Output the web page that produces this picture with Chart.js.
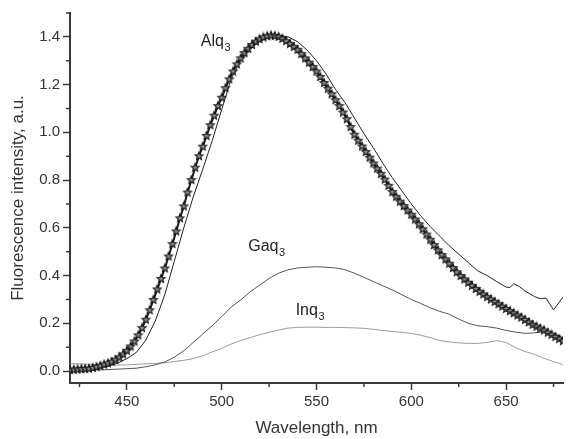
<!DOCTYPE html>
<html>
<head>
<meta charset="utf-8">
<script src="https://cdn.jsdelivr.net/npm/chart.js@4.4.1/dist/chart.umd.min.js"></script>
<style>
  html, body { margin: 0; padding: 0; background: #fff; }
</style>
</head>
<body>
<canvas id="chart" width="569" height="439"></canvas>
<script>
// wavelength grid of the starred Alq3 trace (nm)
const starNm = [
  420,422,424,426,428,430,432,434,436,438,
  440,442,444,446,448,450,452,454,456,458,
  460,462,464,466,468,470,472,474,476,478,
  480,482,484,486,488,490,492,494,496,498,
  500,502,504,506,508,510,512,514,516,518,
  520,522,524,526,528,530,532,534,536,538,
  540,542,544,546,548,550,552,554,556,558,
  560,562,564,566,568,570,572,574,576,578,
  580,582,584,586,588,590,592,594,596,598,
  600,602,604,606,608,610,612,614,616,618,
  620,622,624,626,628,630,632,634,636,638,
  640,642,644,646,648,650,652,654,656,658,
  660,662,664,666,668,670,672,674,676,678,
  680
];
const alqStar = [
  0.005,0.006,0.007,0.008,0.009,0.010,0.013,0.017,0.022,0.027,
  0.032,0.039,0.047,0.057,0.070,0.085,0.103,0.124,0.150,0.180,
  0.215,0.255,0.298,0.342,0.386,0.430,0.480,0.532,0.585,0.640,
  0.690,0.748,0.800,0.852,0.900,0.940,0.985,1.030,1.070,1.110,
  1.145,1.185,1.222,1.255,1.285,1.310,1.332,1.350,1.366,1.380,
  1.390,1.398,1.403,1.406,1.404,1.400,1.392,1.382,1.370,1.358,
  1.346,1.328,1.310,1.292,1.274,1.255,1.232,1.207,1.183,1.160,
  1.135,1.110,1.083,1.055,1.022,0.990,0.965,0.941,0.918,0.894,
  0.870,0.848,0.826,0.802,0.776,0.750,0.730,0.710,0.691,0.673,
  0.655,0.635,0.615,0.594,0.572,0.550,0.528,0.506,0.486,0.468,
  0.450,0.432,0.414,0.398,0.384,0.370,0.357,0.344,0.332,0.321,
  0.310,0.300,0.290,0.280,0.270,0.260,0.251,0.242,0.233,0.224,
  0.214,0.204,0.194,0.186,0.178,0.170,0.161,0.152,0.143,0.134,
  0.125
];

// thin Alq3 trace
const alqThinNm = [
  420,425,430,435,440,445,450,455,460,465,470,475,480,485,490,495,
  500,505,510,515,520,525,530,535,540,545,550,555,560,565,570,575,
  580,585,590,595,600,605,610,615,620,625,630,635,640,645,650,652,
  654,657,660,665,668,671,675,680
];
const alqThin = [
  0.005,0.006,0.008,0.012,0.020,0.033,0.052,0.078,0.130,0.210,0.320,0.460,0.600,0.730,0.845,0.965,
  1.095,1.225,1.300,1.350,1.380,1.400,1.405,1.400,1.380,1.345,1.300,1.245,1.180,1.125,1.060,0.995,
  0.935,0.870,0.810,0.755,0.700,0.650,0.605,0.565,0.525,0.490,0.455,0.420,0.400,0.375,0.352,0.350,
  0.366,0.354,0.335,0.312,0.303,0.306,0.256,0.310
];

// Gaq3 and Inq3 traces share a 5 nm grid
const lineNm = [
  420,425,430,435,440,445,450,455,460,465,470,475,480,485,490,495,
  500,505,510,515,520,525,530,535,540,545,550,555,560,565,570,575,
  580,585,590,595,600,605,610,615,620,625,630,635,640,645,650,655,
  660,665,670,675,680
];
const gaq = [
  0.002,0.003,0.004,0.005,0.006,0.008,0.010,0.012,0.018,0.026,0.038,0.058,0.085,0.120,0.155,0.190,
  0.228,0.268,0.298,0.332,0.360,0.388,0.410,0.424,0.432,0.435,0.437,0.435,0.432,0.425,0.410,0.393,
  0.375,0.357,0.340,0.320,0.300,0.283,0.265,0.250,0.238,0.218,0.200,0.190,0.186,0.180,0.170,0.163,
  0.158,0.160,0.165,0.158,0.140
];
const inq = [
  0.032,0.030,0.028,0.027,0.026,0.025,0.026,0.028,0.030,0.032,0.035,0.040,0.045,0.052,0.064,0.080,
  0.095,0.113,0.128,0.140,0.152,0.162,0.172,0.180,0.183,0.184,0.184,0.183,0.183,0.182,0.181,0.179,
  0.175,0.170,0.166,0.162,0.158,0.150,0.140,0.128,0.122,0.118,0.116,0.116,0.120,0.127,0.120,0.098,
  0.082,0.070,0.053,0.040,0.027
];

const xMajor = [450, 500, 550, 600, 650];
const xMinor = [425, 475, 525, 575, 625, 675];
const yMajor = [0.0, 0.2, 0.4, 0.6, 0.8, 1.0, 1.2, 1.4];
const yMinor = [0.1, 0.3, 0.5, 0.7, 0.9, 1.1, 1.3, 1.5];

const curveLabels = ['Alq', 'Gaq', 'Inq'];
const labelNm = [489, 514, 539];
const labelVal = [1.36, 0.505, 0.235];

const axisColor = '#3a3a3a';
const fontFamily = '"Liberation Sans", Arial, Helvetica, sans-serif';

function pts(xs, ys) {
  return xs.map((x, i) => ({ x, y: ys[i] }));
}

// open five-point star used as marker
function makeStar(r) {
  const size = Math.ceil(r * 2 + 3);
  const c = document.createElement('canvas');
  c.width = size; c.height = size;
  const g = c.getContext('2d');
  g.translate(size / 2, size / 2);
  g.beginPath();
  for (let i = 0; i < 10; i++) {
    const rad = i % 2 === 0 ? r : r * 0.45;
    const a = -Math.PI / 2 + i * Math.PI / 5;
    if (i === 0) g.moveTo(rad * Math.cos(a), rad * Math.sin(a));
    else g.lineTo(rad * Math.cos(a), rad * Math.sin(a));
  }
  g.closePath();
  g.fillStyle = '#8a8a8a';
  g.fill();
  g.strokeStyle = '#111';
  g.lineWidth = 1.1;
  g.stroke();
  return c;
}

const extras = {
  id: 'extras',
  afterDraw(chart) {
    const ctx = chart.ctx;
    const xs = chart.scales.x, ys = chart.scales.y;
    const area = chart.chartArea;
    ctx.save();
    ctx.strokeStyle = axisColor;
    ctx.lineWidth = 1.5;
    ctx.beginPath();
    xMinor.forEach(v => {
      const px = xs.getPixelForValue(v);
      ctx.moveTo(px, area.bottom);
      ctx.lineTo(px, area.bottom + 4);
    });
    yMinor.forEach(v => {
      const py = ys.getPixelForValue(v);
      ctx.moveTo(area.left, py);
      ctx.lineTo(area.left - 4, py);
    });
    ctx.stroke();

    ctx.fillStyle = '#222';
    ctx.textBaseline = 'alphabetic';
    curveLabels.forEach((name, i) => {
      const px = xs.getPixelForValue(labelNm[i]);
      const py = ys.getPixelForValue(labelVal[i]);
      ctx.font = '16px ' + fontFamily;
      ctx.fillText(name, px, py);
      const w = ctx.measureText(name).width;
      ctx.font = '11px ' + fontFamily;
      ctx.fillText('3', px + w + 0.5, py + 5);
    });
    ctx.restore();
  }
};

new Chart(document.getElementById('chart'), {
  type: 'line',
  data: {
    datasets: [
      {
        label: 'Alq3 (stars)',
        data: pts(starNm, alqStar),
        borderColor: '#1a1a1a',
        borderWidth: 2,
        pointStyle: makeStar(4.2),
        pointRadius: 4,
        tension: 0,
        order: 0
      },
      {
        label: 'Alq3',
        data: pts(alqThinNm, alqThin),
        borderColor: '#222',
        borderWidth: 1,
        pointRadius: 0,
        tension: 0,
        order: 1
      },
      {
        label: 'Gaq3',
        data: pts(lineNm, gaq),
        borderColor: '#555',
        borderWidth: 1,
        pointRadius: 0,
        tension: 0,
        order: 2
      },
      {
        label: 'Inq3',
        data: pts(lineNm, inq),
        borderColor: '#9a9a9a',
        borderWidth: 1,
        pointRadius: 0,
        tension: 0,
        order: 3
      }
    ]
  },
  options: {
    responsive: false,
    animation: false,
    layout: { padding: { top: 13, right: 0, left: 0, bottom: 0 } },
    plugins: { legend: { display: false }, tooltip: { enabled: false } },
    scales: {
      x: {
        type: 'linear',
        min: 420,
        max: 680,
        afterBuildTicks: s => { s.ticks = xMajor.map(v => ({ value: v })); },
        afterFit: s => { s.height = 56; },
        border: { display: true, color: axisColor, width: 2 },
        grid: { drawOnChartArea: false, drawTicks: true, tickLength: 7, tickWidth: 1.5, tickColor: axisColor },
        ticks: { color: '#333', padding: 3, font: { size: 15, family: fontFamily }, maxRotation: 0 },
        title: { display: true, text: 'Wavelength, nm', color: '#333', font: { size: 17, family: fontFamily }, padding: { top: 0, bottom: 0 } }
      },
      y: {
        type: 'linear',
        min: -0.05,
        max: 1.5,
        afterBuildTicks: s => { s.ticks = yMajor.map(v => ({ value: v })); },
        afterFit: s => { s.width = 70; },
        border: { display: true, color: axisColor, width: 2 },
        grid: { drawOnChartArea: false, drawTicks: true, tickLength: 7, tickWidth: 1.5, tickColor: axisColor },
        ticks: { color: '#333', padding: 3, font: { size: 15, family: fontFamily }, callback: v => v.toFixed(1) },
        title: { display: true, text: 'Fluorescence intensity, a.u.', color: '#333', font: { size: 17, family: fontFamily }, padding: { top: 8, bottom: 0 } }
      }
    }
  },
  plugins: [extras]
});
</script>
</body>
</html>
